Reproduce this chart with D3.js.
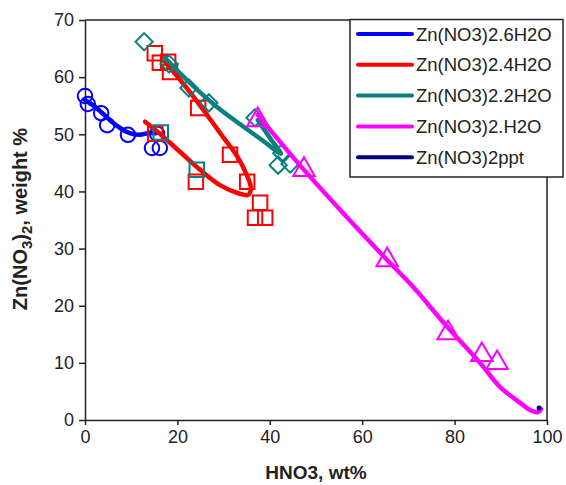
<!DOCTYPE html>
<html>
<head>
<meta charset="utf-8">
<script src="https://cdn.jsdelivr.net/npm/d3@7"></script>
<style>
  html, body { margin: 0; padding: 0; background: #fff; }
  svg { display: block; font-family: "Liberation Sans", Arial, sans-serif; }
</style>
</head>
<body>
<svg id="chart" width="566" height="485"></svg>
<script>
// Solubility data: Zn(NO3)2 wt% versus HNO3 wt%
const hexaPts   = [[0,56.7],[0.6,55.3],[3.5,53.7],[4.8,51.6],[9.3,49.9],[15.6,50.1],[14.5,47.6],[16.2,47.6]];
const hexaFit   = [[0,56.0],[2.2,54.8],[3.9,53.6],[5.8,52.2],[7.6,51.1],[9.7,50.2],[11.9,49.9],[13.6,50.2],[15.4,50.2]];

const tetraPts  = [[15.1,64.2],[16.2,62.5],[18.0,62.7],[18.4,60.9],[24.5,54.6],[15.2,50.1],[24.0,41.7],[31.4,46.4],[35.1,41.7],[37.9,38.0],[36.8,35.4],[39.0,35.4]];
const tetraFit  = [[13.0,52.2],[16.2,50.1],[20.6,46.9],[24.9,43.8],[29.2,41.1],[33.5,39.6],[35.3,39.4],[35.9,40.6],[35.1,42.7],[32.9,46.2],[29.9,49.5],[26.4,53.4],[22.7,57.4],[19.5,60.6],[17.3,62.7]];

const diPts     = [[12.8,66.2],[18.2,62.3],[22.5,58.1],[26.8,55.5],[36.8,52.9],[42.6,46.7],[41.8,44.6],[44.4,44.8]];
const diSqPts   = [[16.4,50.3],[24.2,43.8]];
const diFit     = [[17.3,63.4],[22.7,59.0],[28.1,55.1],[33.5,51.8],[38.3,49.0],[42.4,46.6],[40.0,49.4],[37.4,52.5]];

const monoPts   = [[37.4,52.5],[47.4,43.8],[65.4,28.0],[78.6,15.2],[85.9,11.4],[89.2,10.0]];
const monoFit   = [[37.4,53.4],[46.5,44.6],[55.2,36.8],[65.4,28.0],[71.0,23.3],[78.4,16.3],[85.5,10.0],[89.8,5.8],[94.2,3.0],[96.3,1.75],[98.1,1.4],[98.7,1.9]];

const pptPts    = [[98.3,2.1]];

const seriesNames = ["Zn(NO3)2.6H2O","Zn(NO3)2.4H2O","Zn(NO3)2.2H2O","Zn(NO3)2.H2O","Zn(NO3)2ppt"];
const seriesColors = ["#0000ff","#ff0000","#0a8080","#ff00ff","#000080"];

const xTicks = [0,20,40,60,80,100];
const yTicks = [0,10,20,30,40,50,60,70];

const svg = d3.select("#chart");
const plot = {left: 85, right: 547, top: 20, bottom: 420};

const x = d3.scaleLinear().domain([0,100]).range([plot.left, plot.right]);
const y = d3.scaleLinear().domain([0,70]).range([plot.bottom, plot.top]);

const axisColor = "#222";

// Axes
const xAxis = svg.append("g")
  .attr("transform", `translate(0,${plot.bottom})`)
  .call(d3.axisBottom(x).tickValues(xTicks).tickSize(5).tickSizeOuter(0).tickPadding(5));
const yAxis = svg.append("g")
  .attr("transform", `translate(${plot.left},0)`)
  .call(d3.axisLeft(y).tickValues(yTicks).tickSize(6).tickSizeOuter(0).tickPadding(5));
[xAxis, yAxis].forEach(g => {
  g.select(".domain").attr("stroke", axisColor).attr("stroke-width", 1.5);
  g.selectAll(".tick line").attr("stroke", axisColor).attr("stroke-width", 1.5);
  g.selectAll(".tick text").attr("fill", "#222").style("font-size", "18px")
    .style("font-family", "'Liberation Sans', Arial, sans-serif");
});

// Top and right frame lines
svg.append("line").attr("x1", plot.left).attr("x2", plot.right)
  .attr("y1", y(70)).attr("y2", y(70)).attr("stroke", axisColor).attr("stroke-width", 1.5);
svg.append("line").attr("x1", plot.right).attr("x2", plot.right)
  .attr("y1", y(70)).attr("y2", y(0)).attr("stroke", axisColor).attr("stroke-width", 1.5);

// Axis titles
svg.append("text")
  .attr("x", (plot.left + plot.right) / 2).attr("y", 479)
  .attr("text-anchor", "middle")
  .style("font-size", "19px").style("font-weight", "bold").attr("fill", "#222")
  .text("HNO3, wt%");

const yTitle = svg.append("text")
  .attr("transform", "translate(27,219) rotate(-90)")
  .attr("text-anchor", "middle")
  .style("font-size", "20px").style("font-weight", "bold").attr("fill", "#222");
yTitle.append("tspan").text("Zn(NO");
yTitle.append("tspan").attr("dy", 5).style("font-size", "15px").text("3");
yTitle.append("tspan").attr("dy", -5).text(")");
yTitle.append("tspan").attr("dy", 5).style("font-size", "15px").text("2");
yTitle.append("tspan").attr("dy", -5).text(", weight %");

const line = d3.line().x(d => x(d[0])).y(d => y(d[1])).curve(d3.curveCatmullRom.alpha(0.5));
const g = svg.append("g");

function drawFit(data, color) {
  g.append("path").datum(data).attr("d", line)
    .attr("fill", "none").attr("stroke", color).attr("stroke-width", 4.5)
    .attr("stroke-linecap", "round").attr("stroke-linejoin", "round");
}
function drawMarkers(data, color, type, size) {
  g.append("g").selectAll("path").data(data).join("path")
    .attr("transform", d => `translate(${x(d[0])},${y(d[1])})`)
    .attr("d", d3.symbol().type(type).size(size))
    .attr("fill", "none").attr("stroke", color).attr("stroke-width", 2);
}

// Hexahydrate
drawFit(hexaFit, seriesColors[0]);
drawMarkers(hexaPts, seriesColors[0], d3.symbolCircle, 165);
// Tetrahydrate
drawFit(tetraFit, seriesColors[1]);
drawMarkers(tetraPts, seriesColors[1], d3.symbolSquare, 210);
// Dihydrate
drawFit(diFit, seriesColors[2]);
drawMarkers(diSqPts, seriesColors[2], d3.symbolSquare, 210);
drawMarkers(diPts, seriesColors[2], d3.symbolDiamond2, 190);
// Monohydrate
drawFit(monoFit, seriesColors[3]);
drawMarkers(monoPts, seriesColors[3], d3.symbolTriangle, 200);
// Precipitate point
g.append("g").selectAll("circle").data(pptPts).join("circle")
  .attr("cx", d => x(d[0])).attr("cy", d => y(d[1])).attr("r", 2.5)
  .attr("fill", seriesColors[4]);

// Legend
const legend = svg.append("g");
legend.append("rect").attr("x", 350).attr("y", 19.5).attr("width", 213).attr("height", 157.5)
  .attr("fill", "#fff").attr("stroke", axisColor).attr("stroke-width", 1.5);
seriesNames.forEach((name, i) => {
  const ly = 34 + i * 30.8;
  legend.append("line").attr("x1", 358).attr("x2", 412).attr("y1", ly).attr("y2", ly)
    .attr("stroke", seriesColors[i]).attr("stroke-width", 4).attr("stroke-linecap", "round");
  legend.append("text").attr("x", 416).attr("y", ly).attr("dy", "0.36em")
    .style("font-size", "18.5px").attr("fill", "#222").text(name);
});
</script>
</body>
</html>
